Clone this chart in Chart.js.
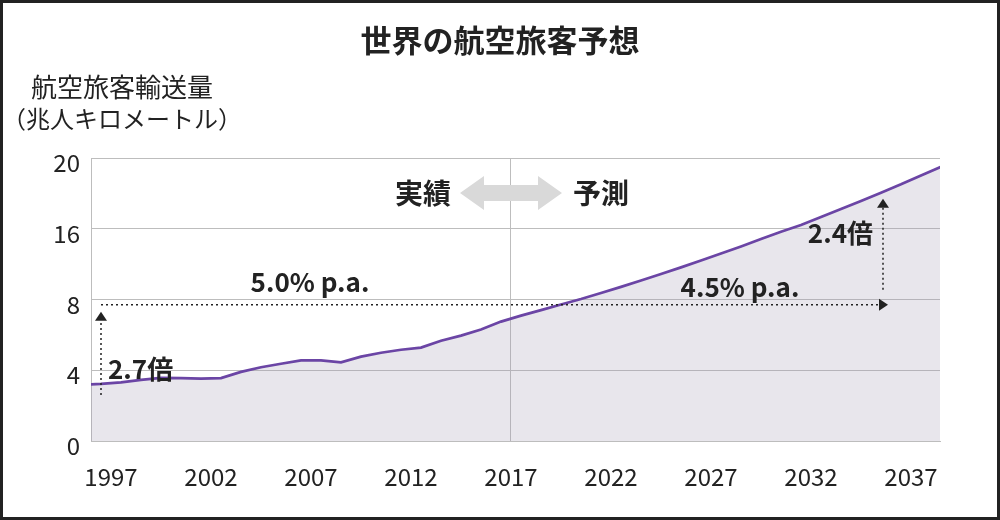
<!DOCTYPE html>
<html>
<head>
<meta charset="utf-8">
<script src="https://cdn.jsdelivr.net/npm/chart.js@4.4.1/dist/chart.umd.min.js"></script>
<style>
    html, body { margin: 0; padding: 0; background: #fff; }
    #wrap { position: relative; width: 1000px; height: 520px; }
    #frame { position: absolute; left: 0; top: 0; width: 1000px; height: 520px; box-sizing: border-box; border: 3px solid #222; pointer-events: none; }
    canvas { position: absolute; left: 0; top: 0; }
</style>
</head>
<body>
<div id="wrap">
    <canvas id="airChart" width="1000" height="520"></canvas>
    <div id="frame"></div>
</div>
<script>
// yearly world passenger traffic (trillion RPK)
const years = [1996, 1997, 1998, 1999, 2000, 2001, 2002, 2003, 2004, 2005,
               2006, 2007, 2008, 2009, 2010, 2011, 2012, 2013, 2014, 2015,
               2016, 2017, 2018, 2019, 2020, 2021, 2022, 2023, 2024, 2025,
               2026, 2027, 2028, 2029, 2030, 2031, 2032, 2033, 2034, 2035,
               2036, 2037, 2038, 2039];
const rpk = [3.18, 3.23, 3.31, 3.46, 3.57, 3.55, 3.53, 3.56, 3.91, 4.17,
             4.37, 4.56, 4.56, 4.45, 4.77, 4.99, 5.16, 5.28, 5.67, 5.96,
             6.30, 6.75, 7.09, 7.40, 7.72, 8.05, 8.73, 9.43, 10.14, 10.88,
             11.63, 12.40, 13.20, 14.00, 14.83, 15.67, 16.21, 16.66, 17.11, 17.57,
             18.04, 18.51, 19.01, 19.50];

// axis ticks (the y axis is spaced evenly between these values)
const yTickValues = [0, 4, 8, 16, 20];
const xTickYears = [1997, 2002, 2007, 2012, 2017, 2022, 2027, 2032, 2037];
const splitYear = 2017;

// annotation values
const baseYear = 1997;
const growthLevel = 7.7;
const endYear = 2036.1;
const endLevel = 17.7;

const FONT = '"Noto Sans CJK JP", "Noto Sans", sans-serif';
const TEXT = '#222';

// map a value onto the evenly spaced tick positions
function toPos(v) {
    for (let i = 0; i < yTickValues.length - 1; i++) {
        const a = yTickValues[i], b = yTickValues[i + 1];
        if (v <= b || i === yTickValues.length - 2) {
            return i + (v - a) / (b - a);
        }
    }
}

const seriesData = years.map((y, i) => ({x: y, y: toPos(rpk[i])}));

function dottedLine(ctx, x1, y1, x2, y2) {
    ctx.save();
    ctx.strokeStyle = TEXT;
    ctx.lineWidth = 1.5;
    ctx.setLineDash([2, 3]);
    ctx.beginPath();
    ctx.moveTo(x1, y1);
    ctx.lineTo(x2, y2);
    ctx.stroke();
    ctx.restore();
}

function arrowHead(ctx, x, y, dir) {
    ctx.fillStyle = TEXT;
    ctx.beginPath();
    if (dir === 'up') {
        ctx.moveTo(x, y);
        ctx.lineTo(x - 6, y + 9);
        ctx.lineTo(x + 6, y + 9);
    } else {
        ctx.moveTo(x, y);
        ctx.lineTo(x - 9, y - 6);
        ctx.lineTo(x - 9, y + 6);
    }
    ctx.closePath();
    ctx.fill();
}

function label(ctx, text, x, y, size, align) {
    ctx.font = 'bold ' + size + 'px ' + FONT;
    ctx.fillStyle = TEXT;
    ctx.textAlign = align || 'center';
    ctx.textBaseline = 'middle';
    ctx.fillText(text, x, y);
}

const annotations = {
    id: 'annotations',
    afterDatasetsDraw(chart) {
        const ctx = chart.ctx;
        const xs = chart.scales.x, ys = chart.scales.y;
        const px = v => xs.getPixelForValue(v);
        const py = v => ys.getPixelForValue(toPos(v));
        ctx.save();

        // grey double arrow across the actual / forecast split
        const cx = px(splitYear + 0.5), cy = 193;
        ctx.fillStyle = '#d9d9d9';
        ctx.beginPath();
        ctx.moveTo(cx - 51, cy);
        ctx.lineTo(cx - 27, cy - 17);
        ctx.lineTo(cx - 27, cy - 8);
        ctx.lineTo(cx + 27, cy - 8);
        ctx.lineTo(cx + 27, cy - 17);
        ctx.lineTo(cx + 51, cy);
        ctx.lineTo(cx + 27, cy + 17);
        ctx.lineTo(cx + 27, cy + 8);
        ctx.lineTo(cx - 27, cy + 8);
        ctx.lineTo(cx - 27, cy + 17);
        ctx.closePath();
        ctx.fill();
        label(ctx, '実績', cx - 60, cy, 28, 'right');
        label(ctx, '予測', cx + 62, cy, 28, 'left');

        // growth arrows
        const xL = px(baseYear), xR = px(endYear);
        const yH = py(growthLevel);
        dottedLine(ctx, xL, yH, xR, yH);
        arrowHead(ctx, xR + 5, yH, 'right');
        dottedLine(ctx, xL, py(2.6), xL, yH + 12);
        arrowHead(ctx, xL, yH + 7, 'up');
        dottedLine(ctx, xR, yH - 15, xR, py(endLevel) + 6);
        arrowHead(ctx, xR, py(endLevel), 'up');

        label(ctx, '2.7倍', xL + 7, 369, 26, 'left');
        label(ctx, '5.0% p.a.', 310, 282, 26);
        label(ctx, '4.5% p.a.', 740, 287, 26);
        label(ctx, '2.4倍', xR - 10, 233, 26, 'right');
        ctx.restore();
    },
    afterDraw(chart) {
        const ctx = chart.ctx;
        ctx.save();
        ctx.fillStyle = TEXT;
        ctx.textBaseline = 'middle';
        ctx.textAlign = 'center';
        ctx.font = 'bold 31px ' + FONT;
        ctx.fillText('世界の航空旅客予想', 500, 40);
        ctx.font = '26px ' + FONT;
        ctx.fillText('航空旅客輸送量', 122, 87);
        ctx.font = '24px ' + FONT;
        ctx.fillText('（兆人キロメートル）', 122, 119);
        ctx.restore();
    }
};

const ctx = document.getElementById('airChart').getContext('2d');
new Chart(ctx, {
    type: 'line',
    data: {
        datasets: [{
            data: seriesData,
            borderColor: '#6b45a5',
            borderWidth: 2.7,
            backgroundColor: 'rgba(163, 155, 179, 0.25)',
            fill: 'origin',
            pointRadius: 0,
            tension: 0
        }]
    },
    options: {
        responsive: false,
        animation: false,
        layout: { padding: { top: 158, right: 60, left: 0, bottom: 0 } },
        plugins: {
            legend: { display: false },
            tooltip: { enabled: false },
            title: { display: false }
        },
        scales: {
            x: {
                type: 'linear',
                min: 1996.5,
                max: 2038.95,
                afterBuildTicks: scale => {
                    scale.ticks = xTickYears.map(y => ({value: y + 0.5}));
                },
                afterFit: scale => { scale.height = 79; },
                grid: {
                    drawTicks: false,
                    color: c => (c.tick && c.tick.value === splitYear + 0.5) ? '#bdbdbd' : 'rgba(0,0,0,0)'
                },
                border: { display: true, color: '#bdbdbd' },
                ticks: {
                    autoSkip: false,
                    maxRotation: 0,
                    padding: 21,
                    color: TEXT,
                    font: { family: FONT, size: 24 },
                    callback: v => String(v - 0.5)
                }
            },
            y: {
                type: 'linear',
                min: 0,
                max: yTickValues.length - 1,
                afterBuildTicks: scale => {
                    scale.ticks = yTickValues.map((v, i) => ({value: i}));
                },
                afterFit: scale => { scale.width = 91; },
                grid: { drawTicks: false, color: '#bdbdbd' },
                border: { display: true, color: '#bdbdbd' },
                ticks: {
                    padding: 11,
                    labelOffset: 5,
                    color: TEXT,
                    font: { family: FONT, size: 24 },
                    callback: v => String(yTickValues[v])
                }
            }
        }
    },
    plugins: [annotations]
});
</script>
</body>
</html>
